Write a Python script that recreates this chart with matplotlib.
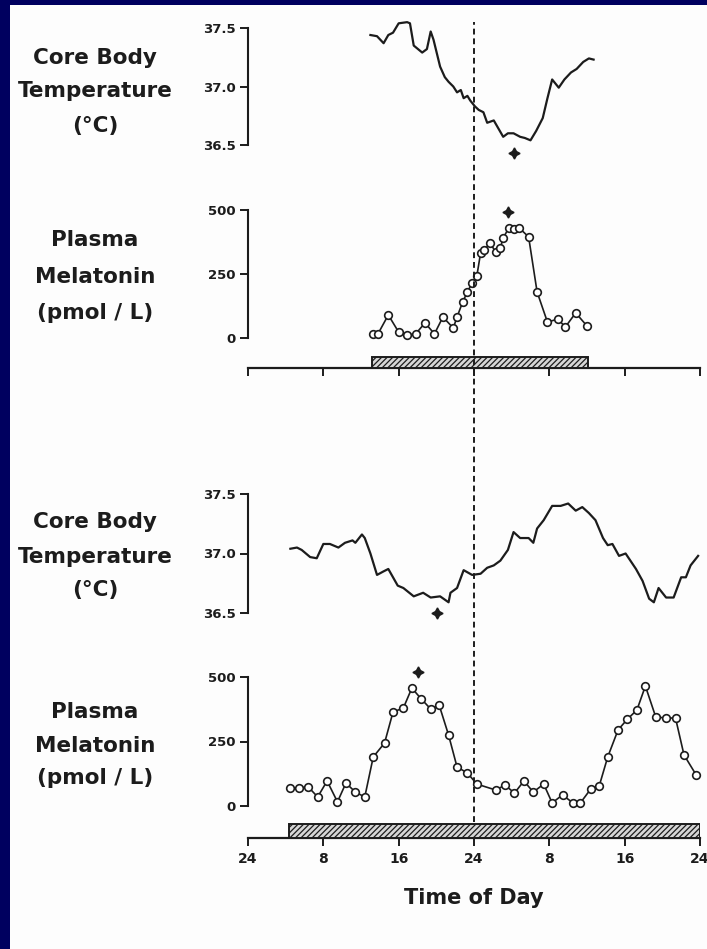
import matplotlib
matplotlib.use("Agg")
import matplotlib.pyplot as plt
from matplotlib.patches import Rectangle

# ---------------- data ----------------
# Top subject (hours from first midnight, 0..48)
top_temp_hours = [13.0, 13.7, 14.4, 14.9, 15.4, 16.0, 16.9, 17.2, 17.6, 18.5, 19.0, 19.4, 19.7,
                  20.4, 20.9, 21.3, 21.8, 22.2, 22.6, 22.9, 23.3, 23.6, 24.1, 24.5, 25.0, 25.4,
                  26.1, 26.6, 27.1, 27.6, 28.2, 28.9, 29.4, 30.0, 30.6, 31.3, 31.8, 32.3, 33.0,
                  33.6, 34.3, 34.9, 35.6, 36.2, 36.7]
top_temp_vals = [37.44, 37.43, 37.37, 37.44, 37.46, 37.54, 37.55, 37.54, 37.35, 37.29, 37.32, 37.47, 37.40,
                 37.17, 37.08, 37.04, 37.00, 36.95, 36.97, 36.90, 36.92, 36.88, 36.83, 36.80, 36.78, 36.69,
                 36.71, 36.64, 36.57, 36.60, 36.60, 36.57, 36.56, 36.54, 36.62, 36.73, 36.90, 37.06, 36.99,
                 37.06, 37.12, 37.15, 37.21, 37.24, 37.23]

top_mel_hours = [13.3, 13.8, 14.9, 16.0, 16.9, 17.8, 18.8, 19.8, 20.7, 21.8, 22.2, 22.8, 23.3, 23.8,
                 24.3, 24.7, 25.1, 25.7, 26.3, 26.8, 27.1, 27.7, 28.2, 28.8, 29.8, 30.7, 31.8, 32.9,
                 33.7, 34.8, 36.0]
top_mel_vals = [16, 16, 90, 23, 12, 16, 59, 16, 82, 39, 82, 141, 180, 215,
                242, 332, 344, 371, 336, 352, 391, 430, 426, 430, 395, 180, 62, 74,
                43, 98, 47]

# Bottom subject
bot_temp_hours = [4.5, 5.2, 5.7, 6.6, 7.3, 8.0, 8.7, 9.6, 10.3, 11.1, 11.4, 12.1, 12.4, 13.0, 13.7,
                  14.4, 14.9, 15.9, 16.5, 17.6, 18.6, 19.4, 20.4, 21.3, 21.5, 22.2, 22.9, 23.8, 24.7,
                  25.4, 26.1, 26.8, 27.6, 28.2, 28.9, 29.8, 30.3, 30.7, 31.4, 32.3, 33.2, 34.0, 34.8,
                  35.5, 36.2, 36.9, 37.7, 38.2, 38.7, 39.4, 40.1, 41.2, 41.9, 42.6, 43.1, 43.6, 44.4,
                  45.2, 46.0, 46.5, 47.0, 47.8]
bot_temp_vals = [37.04, 37.05, 37.03, 36.97, 36.96, 37.08, 37.08, 37.05, 37.09, 37.11, 37.09, 37.16, 37.13, 37.00, 36.82,
                 36.85, 36.87, 36.73, 36.71, 36.64, 36.67, 36.63, 36.64, 36.59, 36.67, 36.71, 36.86, 36.82, 36.83,
                 36.88, 36.90, 36.94, 37.03, 37.18, 37.13, 37.13, 37.09, 37.21, 37.28, 37.40, 37.40, 37.42, 37.36,
                 37.39, 37.34, 37.28, 37.13, 37.07, 37.08, 36.98, 37.00, 36.87, 36.77, 36.62, 36.59, 36.71, 36.63,
                 36.63, 36.80, 36.80, 36.90, 36.98]

bot_mel_hours = [4.5, 5.4, 6.4, 7.4, 8.4, 9.5, 10.4, 11.4, 12.4, 13.3, 14.5, 15.4, 16.5, 17.4, 18.4,
                 19.4, 20.3, 21.3, 22.2, 23.3, 24.3, 26.3, 27.3, 28.3, 29.3, 30.3, 31.4, 32.3, 33.4,
                 34.5, 35.3, 36.4, 37.3, 38.2, 39.3, 40.3, 41.3, 42.2, 43.3, 44.4, 45.4, 46.3, 47.6]
bot_mel_vals = [70, 70, 74, 35, 97, 16, 89, 54, 35, 190, 244, 364, 380, 457, 415,
                376, 391, 275, 151, 128, 85, 62, 81, 50, 97, 54, 85, 12, 43,
                12, 12, 66, 78, 190, 295, 337, 372, 465, 345, 341, 341, 198, 120]

# markers (arrows) at circadian minima / peaks
top_temp_mark = (28.2, 36.43)
top_mel_mark = (27.6, 492)
bot_temp_mark = (20.1, 36.50)
bot_mel_mark = (18.1, 519)

# dark (sleep) periods
top_dark = (13.2, 36.1)
bot_dark = (4.4, 48.0)

time_ticks = [0, 8, 16, 24, 32, 40, 48]
time_labels = ["24", "8", "16", "24", "8", "16", "24"]
temp_ticks = [36.5, 37.0, 37.5]
temp_labels = ["36.5", "37.0", "37.5"]
mel_ticks = [0, 250, 500]
mel_labels = ["0", "250", "500"]

# ---------------- figure ----------------
W, H = 707, 949
NAVY = "#00005f"
INK = "#1c1c1c"
plt.rcParams['hatch.linewidth'] = 0.9
plt.rcParams['font.family'] = ['DejaVu Sans']

fig = plt.figure(figsize=(W / 100, H / 100), dpi=100)
fig.patch.set_facecolor("#fdfdfd")
# navy slide frame (left and top bands)
fig.patches.append(Rectangle((0, 0), 10 / W, 1, transform=fig.transFigure,
                             facecolor=NAVY, edgecolor="none", zorder=-5))
fig.patches.append(Rectangle((0, 1 - 5 / H), 1, 5 / H, transform=fig.transFigure,
                             facecolor=NAVY, edgecolor="none", zorder=-5))


def rect(x0, y0, x1, y1):
    return [x0 / W, 1 - y1 / H, (x1 - x0) / W, (y1 - y0) / H]


X0, X1 = 248, 700


def style_y(ax, ticks, labels, lim):
    ax.set_xlim(0, 48)
    ax.set_ylim(*lim)
    ax.patch.set_visible(False)
    for s in ["top", "right", "bottom"]:
        ax.spines[s].set_visible(False)
    ax.spines["left"].set_linewidth(1.5)
    ax.spines["left"].set_color(INK)
    ax.set_xticks([])
    ax.set_yticks(ticks)
    ax.set_yticklabels(labels, fontsize=9.5, fontweight="bold", color=INK)
    ax.tick_params(axis="y", direction="out", length=6, width=1.4, color=INK, pad=3)


def style_time(ax, dark, show_labels):
    ax.set_xlim(0, 48)
    ax.set_ylim(0, 1)
    ax.patch.set_visible(False)
    for s in ["top", "right", "left"]:
        ax.spines[s].set_visible(False)
    ax.spines["bottom"].set_linewidth(1.6)
    ax.spines["bottom"].set_color(INK)
    ax.set_yticks([])
    ax.set_xticks(time_ticks)
    if show_labels:
        ax.set_xticklabels(time_labels, fontsize=10, fontweight="bold", color=INK)
    else:
        ax.set_xticklabels([])
    ax.tick_params(axis="x", direction="out", length=6, width=1.4, color=INK, pad=4)
    ax.bar(dark[0], 0.85, width=dark[1] - dark[0], bottom=0, align="edge",
           facecolor="#d6d6d6", edgecolor=INK, hatch="//////", linewidth=1.4, zorder=3)


# Top temperature
ax1 = fig.add_axes(rect(X0, 28, X1, 145))
style_y(ax1, temp_ticks, temp_labels, (36.5, 37.5))
ax1.plot(top_temp_hours, top_temp_vals, color=INK, lw=1.6, clip_on=False)
ax1.plot(*top_temp_mark, marker=(4, 1, 0), ms=8, color=INK, clip_on=False)

# Top melatonin
ax2 = fig.add_axes(rect(X0, 210, X1, 338))
style_y(ax2, mel_ticks, mel_labels, (0, 500))
ax2.plot(top_mel_hours, top_mel_vals, color=INK, lw=1.2, marker="o", ms=5.5,
         mfc="white", mec=INK, mew=1.2, clip_on=False)
ax2.plot(*top_mel_mark, marker=(4, 1, 0), ms=8, color=INK, clip_on=False)

# Top time axis
ax3 = fig.add_axes(rect(X0, 355, X1, 368))
style_time(ax3, top_dark, False)

# Bottom temperature
ax4 = fig.add_axes(rect(X0, 494, X1, 613))
style_y(ax4, temp_ticks, temp_labels, (36.5, 37.5))
ax4.plot(bot_temp_hours, bot_temp_vals, color=INK, lw=1.6, clip_on=False)
ax4.plot(*bot_temp_mark, marker=(4, 1, 0), ms=8, color=INK, clip_on=False)

# Bottom melatonin
ax5 = fig.add_axes(rect(X0, 677, X1, 806))
style_y(ax5, mel_ticks, mel_labels, (0, 500))
ax5.plot(bot_mel_hours, bot_mel_vals, color=INK, lw=1.2, marker="o", ms=5.5,
         mfc="white", mec=INK, mew=1.2, clip_on=False)
ax5.plot(*bot_mel_mark, marker=(4, 1, 0), ms=8, color=INK, clip_on=False)

# Bottom time axis
ax6 = fig.add_axes(rect(X0, 822, X1, 838))
style_time(ax6, bot_dark, True)
ax6.set_xlabel("Time of Day", fontsize=15, fontweight="bold", color=INK, labelpad=16)

# dashed midnight line
axd = fig.add_axes(rect(X0, 22, X1, 822))
axd.set_xlim(0, 48)
axd.set_ylim(0, 1)
axd.axis("off")
axd.axvline(24, color=INK, lw=1.4, ls=(0, (3, 2)))

# left-hand labels
lab_kw = dict(ha="center", va="center", fontsize=15.5, fontweight="bold", color=INK)
for txt, y in [("Core Body", 58), ("Temperature", 91), ("(°C)", 126),
               ("Plasma", 240), ("Melatonin", 277), ("(pmol / L)", 313),
               ("Core Body", 522), ("Temperature", 557), ("(°C)", 590),
               ("Plasma", 712), ("Melatonin", 746), ("(pmol / L)", 778)]:
    fig.text(95 / W, 1 - y / H, txt, **lab_kw)

fig.savefig("out.png", dpi=100, facecolor=fig.get_facecolor())
